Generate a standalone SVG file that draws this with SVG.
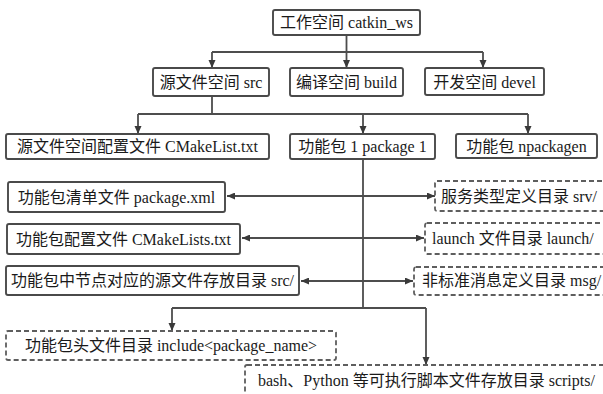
<svg xmlns="http://www.w3.org/2000/svg" width="603" height="394" viewBox="0 0 603 394">
<style>
.box{fill:#fff;stroke:#4a4a4a;stroke-width:1.9}
.dbox{fill:#fff;stroke:#5e5e5e;stroke-width:1.8;stroke-dasharray:5 3}
.t{font-family:"Liberation Serif","Noto Sans CJK SC",serif;font-size:16px;fill:#1a1a1a}
.c{text-anchor:middle}
.ln{fill:none;stroke:#4d4d4d;stroke-width:1.8}
.ar{marker-end:url(#ah)}
.da{marker-start:url(#ahs);marker-end:url(#ah)}
</style>
<defs>
<marker id="ah" markerUnits="userSpaceOnUse" markerWidth="9" markerHeight="8" refX="8" refY="3.5" orient="auto"><path d="M0,0 L8,3.5 L0,7 z" fill="#3a3a3a"/></marker>
<marker id="ahs" markerUnits="userSpaceOnUse" markerWidth="9" markerHeight="8" refX="0" refY="3.5" orient="auto"><path d="M8,0 L0,3.5 L8,7 z" fill="#3a3a3a"/></marker>
</defs>
<rect width="603" height="394" fill="#fff"/>
<g id="connectors">
<path class="ln" d="M346.5,35 V52 M212,52 H483"/>
<path class="ln ar" d="M212,52 V68"/>
<path class="ln ar" d="M346.5,52 V68"/>
<path class="ln ar" d="M483,52 V68"/>
<path class="ln" d="M212,96 V114 M138,114 H528"/>
<path class="ln ar" d="M138,114 V134"/>
<path class="ln ar" d="M363,114 V134"/>
<path class="ln ar" d="M528,114 V134"/>
<path class="ln" d="M363,159 V308 M172,308 H426"/>
<path class="ln ar" d="M172,308 V331"/>
<path class="ln ar" d="M426,308 V365"/>
<path class="ln da" d="M227,196 H435"/>
<path class="ln da" d="M242,238 H424"/>
<path class="ln da" d="M301,281 H413"/>
</g>
<g id="n-ws"><rect class="box" x="273" y="10" width="147" height="25" rx="2"/><text class="t c" x="346.5" y="28">工作空间 catkin_ws</text></g>
<g id="n-src"><rect class="box" x="153" y="68" width="116" height="28" rx="2"/><text class="t c" x="211" y="87.5">源文件空间 src</text></g>
<g id="n-build"><rect class="box" x="290" y="68" width="113" height="28" rx="2"/><text class="t c" x="346.5" y="87.5">编译空间 build</text></g>
<g id="n-devel"><rect class="box" x="425" y="68" width="119" height="27" rx="2"/><text class="t c" x="484.5" y="87.5">开发空间 devel</text></g>
<g id="n-cmake"><rect class="box" x="6" y="134" width="263" height="25" rx="2"/><text class="t c" x="137.5" y="152">源文件空间配置文件 CMakeList.txt</text></g>
<g id="n-pkg1"><rect class="box" x="290" y="134" width="145" height="25" rx="2"/><text class="t c" x="362.5" y="152">功能包 1 package 1</text></g>
<g id="n-pkgn"><rect class="box" x="456" y="134" width="141" height="24" rx="2"/><text class="t c" x="526.5" y="152">功能包 npackagen</text></g>
<g id="n-xml"><rect class="box" x="8" y="182" width="217" height="30" rx="2"/><text class="t c" x="116.5" y="202.5">功能包清单文件 package.xml</text></g>
<g id="n-cmakes"><rect class="box" x="7" y="224" width="233" height="30" rx="2"/><text class="t c" x="123.5" y="244.5">功能包配置文件 CMakeLists.txt</text></g>
<g id="n-srcdir"><rect class="box" x="6" y="266" width="293" height="29" rx="2"/><text class="t c" x="152.5" y="286">功能包中节点对应的源文件存放目录 src/</text></g>
<g id="n-srv"><rect class="dbox" x="435" y="181" width="172" height="30" rx="2"/><text class="t" x="441" y="201.5">服务类型定义目录 srv/</text></g>
<g id="n-launch"><rect class="dbox" x="425" y="223" width="182" height="31" rx="2"/><text class="t" x="432" y="243.5">launch 文件目录 launch/</text></g>
<g id="n-msg"><rect class="dbox" x="414" y="267" width="193" height="28" rx="2"/><text class="t" x="422" y="285.5">非标准消息定义目录 msg/</text></g>
<g id="n-include"><rect class="dbox" x="6" y="331" width="330" height="29" rx="2"/><text class="t c" x="171" y="351">功能包头文件目录 include&lt;package_name&gt;</text></g>
<g id="n-scripts"><rect class="dbox" x="245" y="365" width="362" height="34" rx="2"/><text class="t" x="258" y="385.5">bash、Python 等可执行脚本文件存放目录 scripts/</text></g>
</svg>
